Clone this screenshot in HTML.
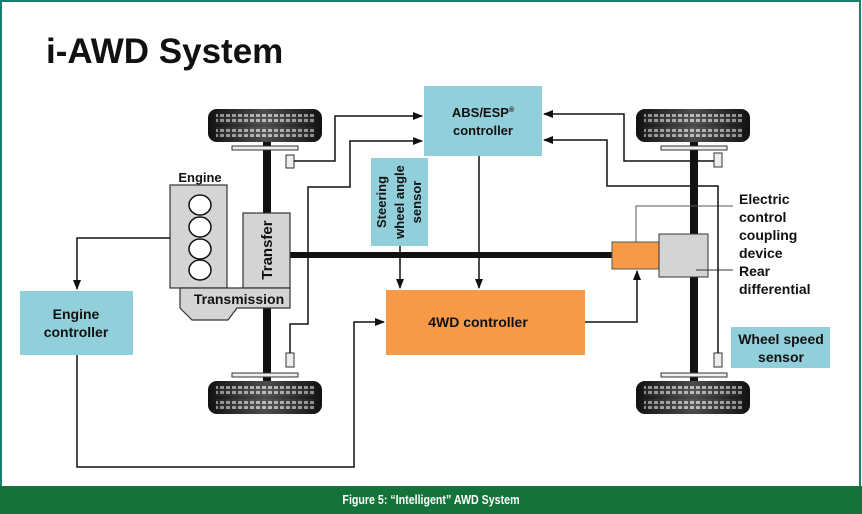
<!DOCTYPE html>
<html><head><meta charset="utf-8"><style>
html,body{margin:0;padding:0;background:#fff}
svg{display:block}
text{font-family:"Liberation Sans",Arial,sans-serif;font-weight:bold;fill:#111}
</style></head><body>
<svg width="862" height="514" viewBox="0 0 862 514" xmlns="http://www.w3.org/2000/svg">
<defs>
<linearGradient id="tg" x1="0" y1="0" x2="1" y2="0">
<stop offset="0" stop-color="#111"/><stop offset="0.2" stop-color="#555"/><stop offset="0.5" stop-color="#bbb"/><stop offset="0.8" stop-color="#555"/><stop offset="1" stop-color="#111"/>
</linearGradient>
<pattern id="tread" width="6" height="5" patternUnits="userSpaceOnUse">
<rect width="6" height="5" fill="#222"/><rect x="0" y="0" width="4" height="3" fill="#ddd"/>
</pattern>
<marker id="ar" markerWidth="10" markerHeight="8" refX="9" refY="4" orient="auto" markerUnits="userSpaceOnUse">
<path d="M0,0 L10,4 L0,8 z" fill="#111"/>
</marker>
<g id="tire">
<rect x="0" y="0" width="114" height="33" rx="9" fill="#111"/>
<rect x="8" y="5" width="98" height="23" fill="url(#tread)" opacity="0.85"/>
<rect x="8" y="15" width="98" height="3" fill="#111"/>
<rect x="0" y="0" width="114" height="33" rx="9" fill="url(#tg)" opacity="0.35"/>
</g>
</defs>
<rect x="0" y="0" width="862" height="514" fill="#fff"/>
<rect x="1" y="1" width="859" height="512" fill="none" stroke="#1c7d6e" stroke-width="2"/>
<rect x="0" y="486" width="862" height="28" fill="#13733a"/>
<text x="431" y="504" font-size="13" text-anchor="middle" style="fill:#fff" transform="translate(431 0) scale(0.82 1) translate(-431 0)">Figure 5:  “Intelligent” AWD System</text>
<text x="46" y="63" font-size="35">i-AWD System</text>

<!-- axles -->
<rect x="263" y="140" width="8" height="244" fill="#111"/>
<rect x="690" y="140" width="8" height="244" fill="#111"/>
<rect x="290" y="252" width="325" height="6" fill="#111"/>
<!-- tires -->
<use href="#tire" x="208" y="109"/>
<use href="#tire" x="208" y="381"/>
<use href="#tire" x="636" y="109"/>
<use href="#tire" x="636" y="381"/>
<!-- plates & sensors -->
<g fill="#eee" stroke="#333" stroke-width="1">
<rect x="232" y="146" width="66" height="4"/>
<rect x="232" y="373" width="66" height="4"/>
<rect x="661" y="146" width="66" height="4"/>
<rect x="661" y="373" width="66" height="4"/>
<rect x="286" y="155" width="8" height="13"/>
<rect x="286" y="353" width="8" height="14"/>
<rect x="714" y="153" width="8" height="14"/>
<rect x="714" y="353" width="8" height="14"/>
</g>
<!-- engine -->
<text x="200" y="182" font-size="13" text-anchor="middle">Engine</text>
<rect x="170" y="185" width="57" height="103" fill="#d4d4d4" stroke="#333" stroke-width="1.2"/>
<g fill="#fff" stroke="#111" stroke-width="1.5">
<ellipse cx="200" cy="205" rx="11" ry="10"/>
<ellipse cx="200" cy="227" rx="11" ry="10"/>
<ellipse cx="200" cy="249" rx="11" ry="10"/>
<ellipse cx="200" cy="270" rx="11" ry="10"/>
</g>
<rect x="243" y="213" width="47" height="75" fill="#d4d4d4" stroke="#333" stroke-width="1.2"/>
<text font-size="15" text-anchor="middle" transform="translate(272 250) rotate(-90)">Transfer</text>
<path d="M180,288 H290 V308 H237 L228,320 H192 L180,308 Z" fill="#d4d4d4" stroke="#333" stroke-width="1.2"/>
<text x="239" y="304" font-size="14" text-anchor="middle">Transmission</text>
<!-- rear coupling & diff -->
<rect x="612" y="242" width="47" height="27" fill="#f79a48" stroke="#555" stroke-width="1"/>
<rect x="659" y="234" width="49" height="43" fill="#d4d4d4" stroke="#333" stroke-width="1"/>
<polyline points="636,242 636,206 733,206" fill="none" stroke="#555" stroke-width="1"/>
<line x1="696" y1="270" x2="733" y2="270" stroke="#333" stroke-width="1"/>
<g font-size="14">
<text x="739" y="204">Electric</text>
<text x="739" y="222">control</text>
<text x="739" y="240">coupling</text>
<text x="739" y="258">device</text>
<text x="739" y="276">Rear</text>
<text x="739" y="294">differential</text>
</g>
<!-- boxes -->
<rect x="424" y="86" width="118" height="70" fill="#91d0da"/>
<text x="483" y="117" font-size="13" text-anchor="middle">ABS/ESP<tspan font-size="7" dy="-5">®</tspan></text>
<text x="483" y="135" font-size="13" text-anchor="middle">controller</text>
<rect x="371" y="158" width="57" height="88" fill="#91d0da"/>
<g font-size="13" text-anchor="middle">
<text transform="translate(386 202) rotate(-90)">Steering</text>
<text transform="translate(404 202) rotate(-90)">wheel angle</text>
<text transform="translate(421 202) rotate(-90)">sensor</text>
</g>
<rect x="20" y="291" width="113" height="64" fill="#91d0da"/>
<text x="76" y="319" font-size="14" text-anchor="middle">Engine</text>
<text x="76" y="337" font-size="14" text-anchor="middle">controller</text>
<rect x="386" y="290" width="199" height="65" fill="#f79a48"/>
<text x="478" y="327" font-size="14" text-anchor="middle">4WD controller</text>
<rect x="731" y="327" width="99" height="41" fill="#91d0da"/>
<text x="781" y="344" font-size="14" text-anchor="middle">Wheel speed</text>
<text x="781" y="362" font-size="14" text-anchor="middle">sensor</text>
<!-- connectors -->
<g fill="none" stroke="#111" stroke-width="1.5">
<polyline points="294,161 335,161 335,116 422,116" marker-end="url(#ar)"/>
<polyline points="290,353 290,324 308,324 308,187 350,187 350,141 422,141" marker-end="url(#ar)"/>
<polyline points="714,161 624,161 624,114 544,114" marker-end="url(#ar)"/>
<polyline points="718,353 718,186 607,186 607,140 544,140" marker-end="url(#ar)"/>
<polyline points="479,156 479,288" marker-end="url(#ar)"/>
<polyline points="400,246 400,288" marker-end="url(#ar)"/>
<polyline points="170,238 77,238 77,289" marker-end="url(#ar)"/>
<polyline points="77,355 77,467 354,467 354,322 384,322" marker-end="url(#ar)"/>
<polyline points="585,322 637,322 637,271" marker-end="url(#ar)"/>
</g>
</svg>
</body></html>
